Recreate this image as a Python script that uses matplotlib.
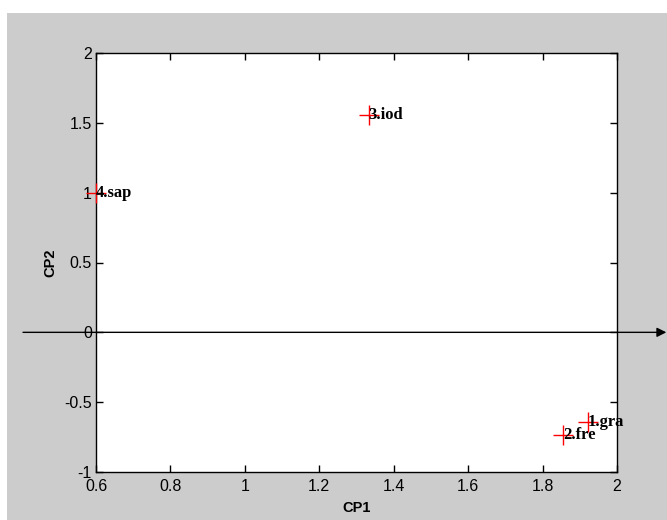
import numpy as np
import matplotlib
matplotlib.use("Agg")
import matplotlib.pyplot as plt
from matplotlib.patches import Rectangle

# scores sur les deux premieres composantes
labels = ["1.gra", "2.fre", "3.iod", "4.sap"]
cp1 = [1.922, 1.855, 1.333, 0.600]
cp2 = [-0.643, -0.736, 1.557, 1.000]

xticks = [0.6, 0.8, 1, 1.2, 1.4, 1.6, 1.8, 2]
yticks = [-1, -0.5, 0, 0.5, 1, 1.5, 2]

plt.rcParams["font.family"] = ["Liberation Sans", "DejaVu Sans"]

fig = plt.figure(figsize=(6.67, 5.2), dpi=100)
fig.patch.set_facecolor("white")
# fond gris de la fenetre
fig.patches.append(Rectangle((7/667, 0), 1 - 7/667, 1 - 13/520,
                             transform=fig.transFigure, facecolor="#cccccc",
                             edgecolor="none", zorder=-10))

ax = fig.add_axes([96/667, 1 - 472/520, 521/667, 419/520])
ax.set_facecolor("white")

ax.plot(cp1, cp2, "+", color="red", markersize=15, markeredgewidth=1.0, clip_on=False, zorder=3)
for x, y, lab in zip(cp1, cp2, labels):
    ax.text(x, y, lab, fontsize=12, fontweight="bold", family="Liberation Serif",
            ha="left", va="center", zorder=4, clip_on=False)

ax.set_xlim(0.6, 2)
ax.set_ylim(-1, 2)
ax.set_xticks(xticks)
ax.set_xticklabels(["0.6", "0.8", "1", "1.2", "1.4", "1.6", "1.8", "2"])
ax.set_yticks(yticks)
ax.set_yticklabels(["-1", "-0.5", "0", "0.5", "1", "1.5", "2"])
ax.tick_params(direction="in", top=True, right=True, length=5, width=1,
               labelsize=11.5)
ax.tick_params(axis="x", pad=5)
ax.tick_params(axis="y", pad=3)
for s in ax.spines.values():
    s.set_linewidth(1.0)

ax.set_xlabel("CP1", fontsize=10.5, fontweight="bold", labelpad=5)
ax.set_ylabel("CP2", fontsize=10.5, fontweight="bold", labelpad=5)

# axe horizontal avec fleche
ax.annotate("", xy=(0.999, 0), xytext=(23/667, 0),
            xycoords=("figure fraction", "data"), textcoords=("figure fraction", "data"),
            arrowprops=dict(arrowstyle="-|>", color="black", lw=1.0, mutation_scale=14,
                            shrinkA=0, shrinkB=0), zorder=2, annotation_clip=False)

fig.savefig("out.png", dpi=100)
